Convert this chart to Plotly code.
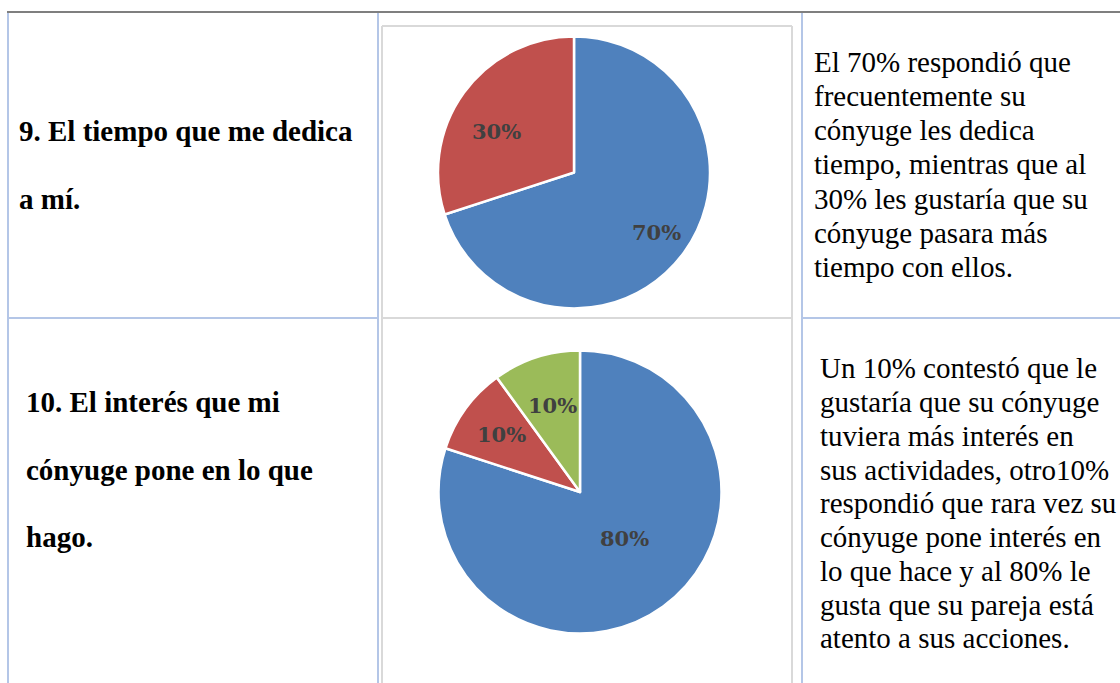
import math
import plotly.graph_objects as go

# data
q9_labels = ["Frecuentemente", "Más tiempo"]
q9_values = [70, 30]
q10_labels = ["Atento", "Rara vez", "Más interés"]
q10_values = [80, 10, 10]

q9_lines = ["9. El tiempo que me dedica", "a mí."]
q10_lines = ["10. El interés que mi", "cónyuge pone en lo que", "hago."]

desc9_lines = [
    "El 70% respondió que",
    "frecuentemente su",
    "cónyuge les dedica",
    "tiempo, mientras que al",
    "30% les gustaría que su",
    "cónyuge pasara más",
    "tiempo con ellos.",
]
desc10_lines = [
    "Un 10% contestó que le",
    "gustaría que su cónyuge",
    "tuviera más interés en",
    "sus actividades, otro10%",
    "respondió que rara vez su",
    "cónyuge pone interés en",
    "lo que hace y al 80% le",
    "gusta que su pareja está",
    "atento a sus acciones.",
]

W, H = 1120, 683
BLUE, RED, GREEN = "#4F81BD", "#C0504D", "#9BBB59"
TABLE = "#B4C6E7"
BOX = "#D9D9D9"


def px(x):
    return x / W


def py(y):
    return 1 - y / H


def pie_domain(cx, cy, r):
    return dict(x=[px(cx - r), px(cx + r)], y=[py(cy + r), py(cy - r)])


fig = go.Figure()
annotations = []

pie_style = dict(
    sort=False,
    direction="clockwise",
    rotation=0,
    textinfo="none",
    marker_line=dict(color="white", width=2.5),
    hoverinfo="label+percent",
    showlegend=False,
)


def add_pie(labels, values, colors, cx, cy, r, label_r):
    fig.add_trace(go.Pie(labels=labels, values=values, marker_colors=colors,
                         domain=pie_domain(cx, cy, r), **pie_style))
    # percentage labels placed inside each slice (like Excel's best fit)
    total = sum(values)
    cum = 0
    for v, f in zip(values, label_r):
        mid = (cum + v / 2) / total * 2 * math.pi
        cum += v
        annotations.append(dict(
            xref="paper", yref="paper",
            x=px(cx + f * r * math.sin(mid)), y=py(cy - f * r * math.cos(mid)),
            text="<b>%d%%</b>" % round(100 * v / total), showarrow=False,
            font=dict(family="DejaVu Serif", size=21, color="#404040"),
        ))


add_pie(q9_labels, q9_values, [BLUE, RED], 574, 172.5, 136, [0.75, 0.70])
add_pie(q10_labels, q10_values, [BLUE, RED, GREEN], 580, 492, 141.5, [0.53, 0.69, 0.64])

# table rules
shapes = []


def line(x0, y0, x1, y1, color, width=2):
    shapes.append(dict(type="line", xref="paper", yref="paper",
                       x0=px(x0), y0=py(y0), x1=px(x1), y1=py(y1),
                       line=dict(color=color, width=width)))


line(7, 12, W, 12, "#7F7F7F")
for x in [8, 378, 802]:
    line(x, 13, x, H, TABLE)
line(8, 318, 378, 318, TABLE)
line(802, 318, W, 318, TABLE)
# chart frames
line(382, 26, 792, 26, BOX)
line(382, 318, 792, 318, BOX)
line(382, 26, 382, H, BOX)
line(792, 26, 792, H, BOX)

FS = 29


def text_block(lines, x, base0, step, bold):
    for i, t in enumerate(lines):
        base = base0 + i * step
        annotations.append(dict(
            xref="paper", yref="paper", x=px(x), y=py(base - 0.34 * FS),
            xanchor="left", yanchor="middle", showarrow=False,
            text="<b>%s</b>" % t if bold else t,
            font=dict(family="Liberation Serif", size=FS, color="black"),
        ))


text_block(q9_lines, 17, 140.5, 68.5, True)
text_block(q10_lines, 24, 412.3, 67.5, True)
text_block(desc9_lines, 812, 71.7, 34.2, False)
text_block(desc10_lines, 818, 378.3, 33.75, False)

fig.update_layout(
    width=W, height=H,
    margin=dict(l=0, r=0, t=0, b=0),
    paper_bgcolor="white", plot_bgcolor="white",
    shapes=shapes, annotations=annotations,
)

fig.write_html("out.html", config={"displayModeBar": False},
               post_script="document.body.style.margin='0';")
